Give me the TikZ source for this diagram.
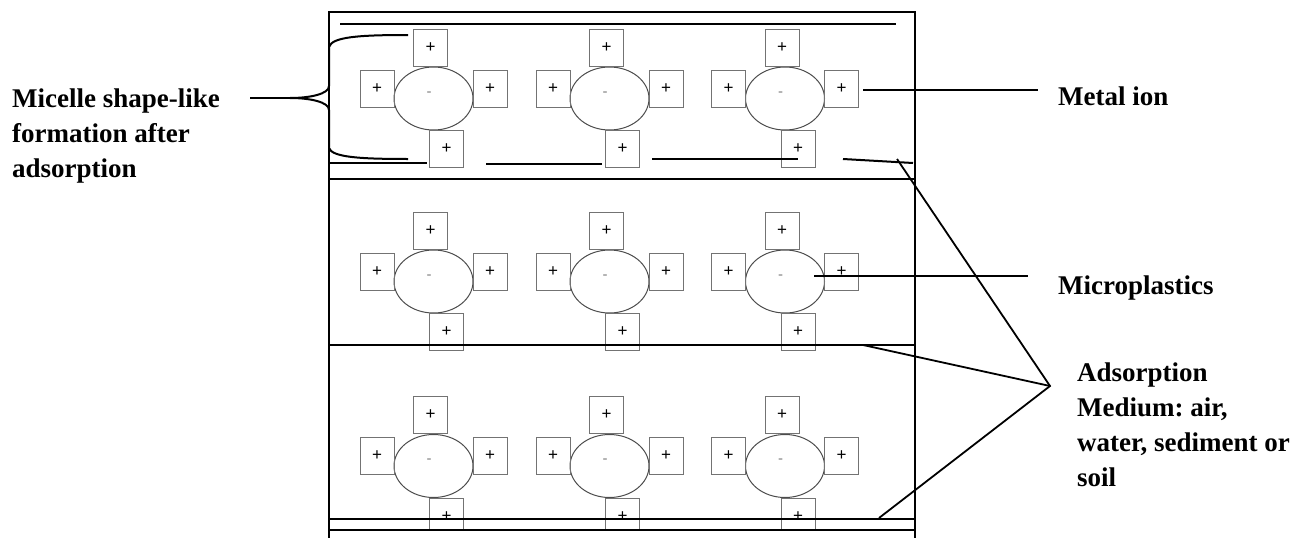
\documentclass[tikz,border=0pt]{standalone}
\usepackage{fontspec}
\setmainfont{Liberation Serif}
\newfontfamily\signfont{Liberation Sans}
\usetikzlibrary{shapes.geometric}
\frenchspacing
\tikzset{
  frameline/.style={line width=2pt, black},
  leader/.style={line width=1.8pt, black},
  ion/.style={draw=black!55, line width=1pt, minimum width=34pt, minimum height=37pt, inner sep=0pt, font=\signfont\fontsize{17}{17}\selectfont},
  core/.style={ellipse, draw=black!70, line width=1pt, minimum width=79pt, minimum height=63pt, inner sep=0pt},
  minussign/.style={inner sep=0pt, text=black!50, font=\signfont\fontsize{15}{15}\selectfont},
  lbl/.style={anchor=base west, inner sep=0pt, font=\bfseries\fontsize{27}{35}\selectfont},
  micelle/.pic={
    \node[core] (-e) at (0,0) {};
    \node[minussign] (-m) at (-4.5,-4.5) {-};
    \node[ion] (-t) at (-3,-51) {+};
    \node[ion] (-l) at (-56.5,-10) {+};
    \node[ion] (-r) at (56.5,-10) {+};
    \node[ion] (-b) at (13,50.5) {+};
  }
}
\begin{document}
\begin{tikzpicture}[x=1pt,y=-1pt]
\useasboundingbox (0,0) rectangle (1301,538);

% micelles, top and middle bands
\pic (m11) at (433.5,98.5) {micelle};
\pic (m12) at (609.5,98.5) {micelle};
\pic (m13) at (785,98.5) {micelle};
\pic (m21) at (433.5,281.5) {micelle};
\pic (m22) at (609.5,281.5) {micelle};
\pic (m23) at (785,281.5) {micelle};
% bottom band (cut by the lowest line)
\begin{scope}
  \clip (0,0) rectangle (1301,530);
  \pic (m31) at (433.5,466) {micelle};
  \pic (m32) at (609.5,466) {micelle};
  \pic (m33) at (785,466) {micelle};
\end{scope}

% frame and band lines
\draw[frameline] (329,538) -- (329,12) -- (915,12) -- (915,538);
\draw[frameline] (340,24) -- (896,24);
\draw[frameline] (329,163) -- (427,163);
\draw[frameline] (486,164) -- (602,164);
\draw[frameline] (652,159) -- (798,159);
\draw[frameline] (843,159) -- (913,163);
\draw[frameline] (329,179) -- (915,179);
\draw[frameline] (329,345) -- (915,345);
\draw[frameline] (329,519) -- (915,519);
\draw[frameline] (329,530) -- (915,530);

% brace
\draw[frameline] (408,35) .. controls (358,35) and (332,37) .. (329,47) -- (329,86)
  .. controls (329,94) and (310,98) .. (290,98)
  .. controls (310,98) and (329,102) .. (329,110) -- (329,148)
  .. controls (332,157) and (358,159) .. (408,159);

% labels
\node[lbl] (micelletxt) at (12,107) {\vtop{\hbox{Micelle shape-like}\hbox{formation after}\hbox{adsorption}}};
\node[lbl] (metaltxt) at (1058,105) {Metal ion};
\node[lbl] (microtxt) at (1058,294) {Microplastics};
\node[lbl] (adsorbtxt) at (1077,381) {\vtop{\hbox{Adsorption}\hbox{Medium: air,}\hbox{water, sediment or}\hbox{soil}}};

% leader lines
\coordinate (bracetip) at (290,98);
\coordinate (braceend) at (250,98);
\draw[leader] (braceend) -- (bracetip);
\coordinate (metalA) at (863,90);
\coordinate (metalB) at (1038,90);
\draw[leader] (metalA) -- (metalB);
\coordinate (microA) at (814,276);
\coordinate (microB) at (1028,276);
\draw[leader] (microA) -- (microB);
\coordinate (apex) at (1050,386);
\coordinate (ad1) at (897,159);
\coordinate (ad2) at (863,345);
\coordinate (ad3) at (879,518);
\draw[leader] (ad1) -- (apex) -- (ad3);
\draw[leader] (ad2) -- (apex);
\end{tikzpicture}
\end{document}
